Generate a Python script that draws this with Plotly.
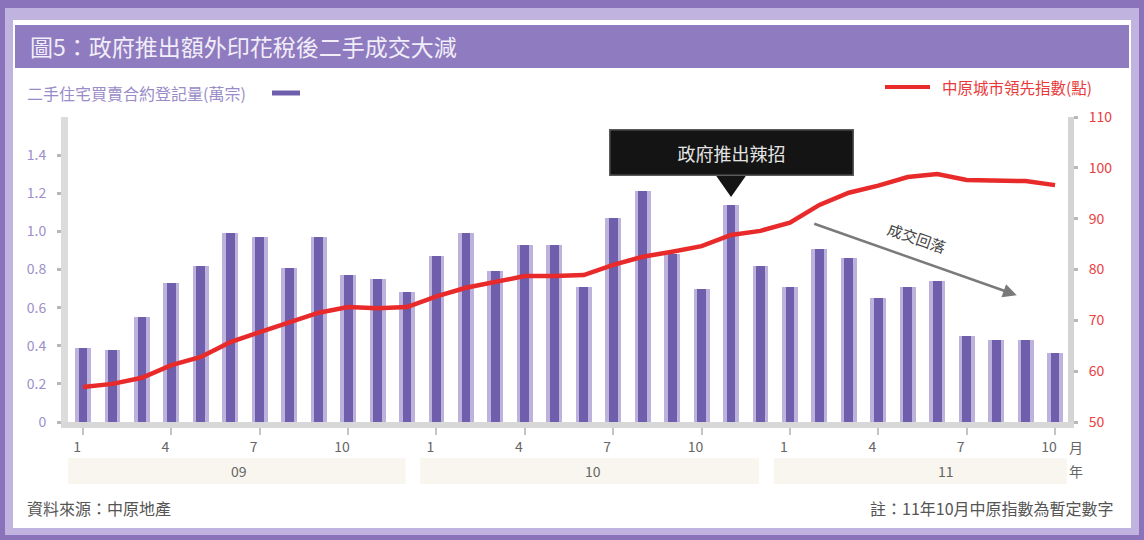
import plotly.graph_objects as go

# ---------------- data ----------------
years = ["09", "10", "11"]
months = [f"20{y}-{m:02d}" for y in years for m in range(1, 13)][:34]   # Jan 2009 - Oct 2011
transactions = [0.39, 0.38, 0.55, 0.73, 0.82, 0.99, 0.97, 0.81, 0.97, 0.77, 0.75, 0.68,
                0.87, 0.99, 0.79, 0.93, 0.93, 0.71, 1.07, 1.21, 0.88, 0.70, 1.14, 0.82,
                0.71, 0.91, 0.86, 0.65, 0.71, 0.74, 0.45, 0.43, 0.43, 0.36]
ccl_index = [56.9, 57.5, 58.7, 61.2, 62.8, 65.7, 67.7, 69.5, 71.5, 72.6, 72.4, 72.6,
             74.7, 76.4, 77.6, 78.7, 78.7, 78.9, 80.9, 82.5, 83.5, 84.6, 86.8, 87.6,
             89.2, 92.7, 95.1, 96.5, 98.2, 98.8, 97.6, 97.4, 97.4, 96.6]
month_tick_idx = [i for i in range(len(months)) if int(months[i][-2:]) in (1, 4, 7, 10)]
month_tick_text = [str(int(months[i][-2:])) for i in month_tick_idx]
left_ticks = [0, 0.2, 0.4, 0.6, 0.8, 1.0, 1.2, 1.4]
left_tick_text = ["0", "0.2", "0.4", "0.6", "0.8", "1.0", "1.2", "1.4"]
right_ticks = [50, 60, 70, 80, 90, 100, 110]

title_text = "圖5：政府推出額外印花稅後二手成交大減"
left_label = "二手住宅買賣合約登記量(萬宗)"
right_label = "中原城市領先指數(點)"
callout_text = "政府推出辣招"
trend_text = "成交回落"
source_text = "資料來源：中原地產"
note_text = "註：11年10月中原指數為暫定數字"

FONT = "Noto Sans CJK TC"
W, H = 1144, 540
L, R, T, B = 68, 76, 117, 118
PW, PH = W - L - R, H - T - B


def px(xp):
    return (xp - L) / PW


def py(yp):
    return (H - B - yp) / PH


fig = go.Figure()
fig.add_trace(go.Bar(x=months, y=transactions, width=0.54, marker=dict(color="#bcb2dc", line_width=0),
                     yaxis="y", hoverinfo="skip"))
fig.add_trace(go.Bar(x=months, y=transactions, width=0.3, marker=dict(color="#6e5eab", line_width=0),
                     yaxis="y"))
fig.add_trace(go.Scatter(x=months, y=ccl_index, mode="lines", yaxis="y2",
                         line=dict(color="#e92a2a", width=4.5)))

shapes = []
# frame
shapes.append(dict(type="rect", xref="paper", yref="paper", x0=px(5), x1=px(1139), y0=py(535), y1=py(8),
                   fillcolor="#c0b3df", line_width=0, layer="below"))
shapes.append(dict(type="rect", xref="paper", yref="paper", x0=px(13), x1=px(1131), y0=py(528), y1=py(20),
                   fillcolor="white", line_width=0, layer="below"))
shapes.append(dict(type="rect", xref="paper", yref="paper", x0=px(15), x1=px(1129), y0=py(68), y1=py(25),
                   fillcolor="#8f7bbf", line_width=0, layer="below"))
# year bands
for k, y in enumerate(years):
    x0 = 12 * k - 0.55
    x1 = min(12 * k + 10.95, len(months) - 0.6)
    shapes.append(dict(type="rect", xref="x", yref="paper", x0=x0, x1=x1, y0=py(484), y1=py(458),
                       fillcolor="#f8f6ee", line_width=0, layer="below"))
# legend markers
shapes.append(dict(type="line", xref="paper", yref="paper", x0=px(272), x1=px(300), y0=py(93), y1=py(93),
                   line=dict(color="#6e5eab", width=5)))
shapes.append(dict(type="line", xref="paper", yref="paper", x0=px(885), x1=px(930), y0=py(87), y1=py(87),
                   line=dict(color="#e92a2a", width=4)))
# callout pointer (Nov 2010)
ci = 22
shapes.append(dict(type="path", xref="x", yref="paper",
                   path=f"M {ci-0.5},{py(176)} L {ci+0.5},{py(176)} L {ci},{py(197)} Z",
                   fillcolor="#141414", line_width=0))

annotations = [
    dict(text=title_text, xref="paper", yref="paper", x=px(28), y=py(46), xanchor="left", yanchor="middle",
         showarrow=False, font=dict(family=FONT, size=23, color="#f1edf9")),
    dict(text=left_label, xref="paper", yref="paper", x=px(25), y=py(93), xanchor="left", yanchor="middle",
         showarrow=False, font=dict(family=FONT, size=16, color="#9a8cc8")),
    dict(text=right_label, xref="paper", yref="paper", x=px(940), y=py(87), xanchor="left", yanchor="middle",
         showarrow=False, font=dict(family=FONT, size=15.5, color="#e83a3a")),
    dict(text=callout_text, xref="x", yref="paper", x=ci, y=py(152), xanchor="center", yanchor="middle",
         showarrow=False, bgcolor="#141414", bordercolor="#5a5a5a", borderwidth=1.5, width=240, height=42,
         font=dict(family=FONT, size=18, color="#e4e4e4")),
    dict(text="", xref="x", yref="y", x=31.7, y=0.665, ax=-204, ay=-72, showarrow=True,
         arrowhead=2, arrowsize=1.1, arrowwidth=2.5, arrowcolor="#7a7a7a"),
    dict(text=trend_text, xref="x", yref="y", x=28.3, y=0.97, textangle=19, showarrow=False,
         xanchor="center", yanchor="middle", font=dict(family=FONT, size=15, color="#444444")),
    dict(text="月", xref="paper", yref="paper", x=px(1076), y=py(447), showarrow=False,
         xanchor="center", yanchor="middle", font=dict(family=FONT, size=14, color="#666666")),
    dict(text="年", xref="paper", yref="paper", x=px(1076), y=py(471), showarrow=False,
         xanchor="center", yanchor="middle", font=dict(family=FONT, size=14, color="#666666")),
    dict(text=source_text, xref="paper", yref="paper", x=px(25), y=py(508), xanchor="left", yanchor="middle",
         showarrow=False, font=dict(family=FONT, size=16, color="#555555")),
    dict(text=note_text, xref="paper", yref="paper", x=px(1116), y=py(508), xanchor="right", yanchor="middle",
         showarrow=False, font=dict(family=FONT, size=16, color="#555555")),
]
for k, y in enumerate(years):
    annotations.append(dict(text=y, xref="x", yref="paper", x=12 * k + 5.3, y=py(471), showarrow=False,
                            xanchor="center", yanchor="middle", font=dict(family=FONT, size=14, color="#666666")))

fig.update_layout(
    width=W, height=H, margin=dict(l=L, r=R, t=T, b=B, pad=0),
    paper_bgcolor="#8a73ba", plot_bgcolor="rgba(0,0,0,0)",
    barmode="overlay", bargap=0, showlegend=False,
    font=dict(family=FONT),
    shapes=shapes, annotations=annotations,
    xaxis=dict(type="category", range=[-0.51, len(months) - 1 + 0.44], tickmode="array",
               tickvals=[months[i] for i in month_tick_idx], ticktext=month_tick_text,
               showline=True, linecolor="#d8d8d8", linewidth=6, ticks="outside", ticklen=7,
               tickwidth=2, tickcolor="#c4c4c4", ticklabelstandoff=0, ticklabelshift=-6,
               tickfont=dict(family=FONT, size=14, color="#666666"), showgrid=False, zeroline=False),
    yaxis=dict(range=[0, 1.6], tickvals=left_ticks, ticktext=left_tick_text, showline=True,
               linecolor="#dcdcdc", linewidth=7, ticks="outside", ticklen=4, tickwidth=3,
               tickcolor="#b8b8b8", ticklabelstandoff=8, showgrid=False, zeroline=False,
               tickfont=dict(family=FONT, size=14, color="#9d8fcb")),
    yaxis2=dict(range=[50, 110], tickvals=right_ticks, overlaying="y", side="right", showline=True,
                linecolor="#d4d4d4", linewidth=6, ticks="outside", ticklen=4, tickwidth=3,
                tickcolor="#b8b8b8", ticklabelstandoff=8, showgrid=False, zeroline=False,
                tickfont=dict(family=FONT, size=14, color="#ea4040")),
)

fig.write_html("out.html", config={"displayModeBar": False},
               post_script="document.body.style.margin='0';document.body.style.overflow='hidden';")
